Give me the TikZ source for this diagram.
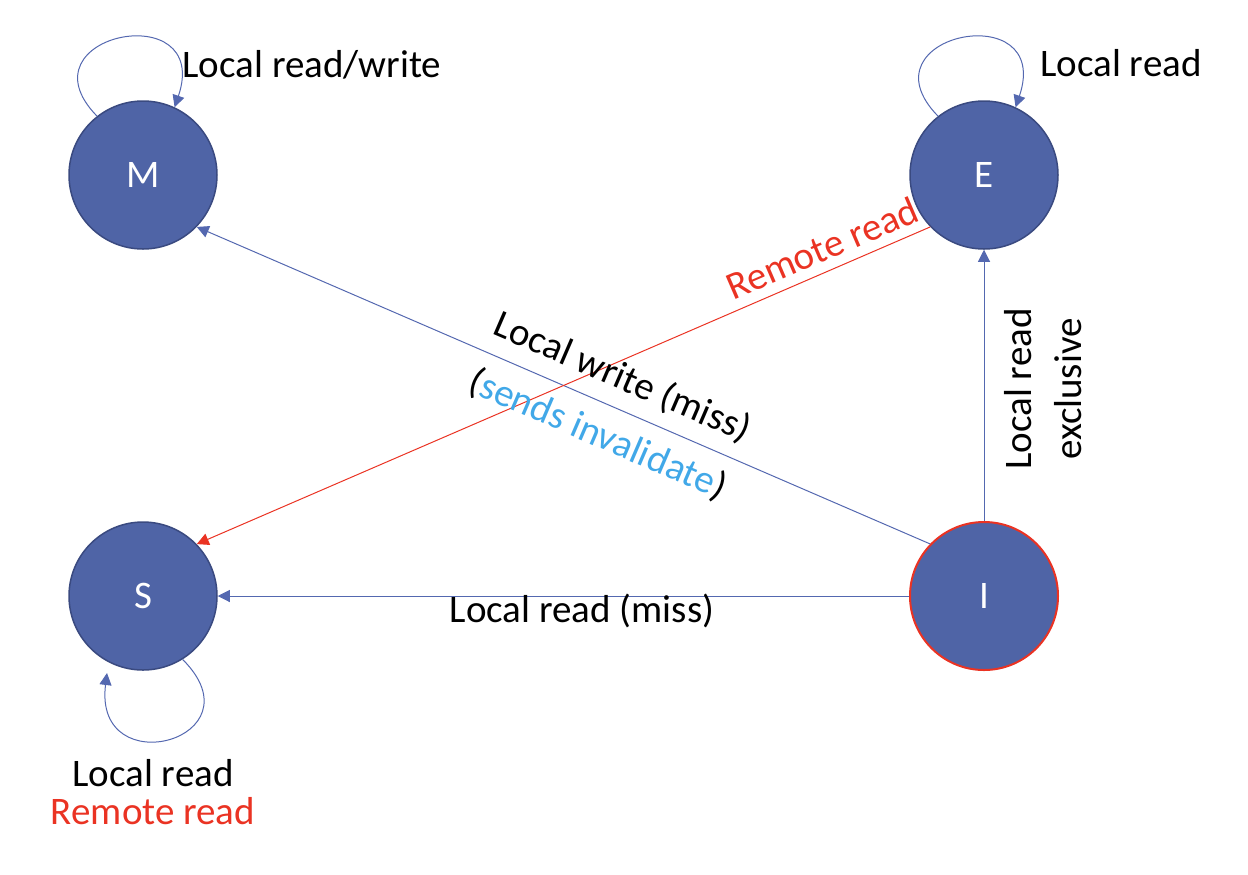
\documentclass[tikz,border=0pt]{standalone}
\usepackage{fontspec}
\setmainfont{Carlito}
\usepackage{xcolor}
\usepackage{tikz}
\usetikzlibrary{arrows.meta, positioning}
\definecolor{stateblue}{RGB}{79,100,166}
\definecolor{stateedge}{RGB}{58,74,128}
\definecolor{linkblue}{RGB}{84,104,176}
\definecolor{remotered}{RGB}{234,51,35}
\definecolor{invblue}{RGB}{65,168,232}

\begin{document}
\begin{tikzpicture}[
    x=0.5pt, y=-0.5pt,
    state/.style={circle, draw=stateedge, line width=0.75pt, fill=stateblue, minimum size=74pt, inner sep=0pt, text=white, font=\fontsize{19.5}{23}\selectfont},
    arrow/.style={-{Triangle[length=6pt,width=6pt]}, linkblue, line width=0.5pt},
    lbl/.style={font=\fontsize{19.5}{23}\selectfont, align=center}
]
\useasboundingbox (0,0) rectangle (1248,874);

\node[state] (M) at (143,175) {M};
\node[state] (E) at (984,175) {E};
\node[state] (S) at (143,596) {S};
\node[state, draw=remotered, line width=1pt] (I) at (984,596) {I};
\coordinate (Sin) at (107,673);

\draw[arrow] (I.136) -- (M.-44);
\draw[arrow, remotered] (E.-136) -- (S.44);
\draw[arrow] (I) -- (E);
\draw[arrow] (I) -- (S);
\draw[arrow] (M.128) .. controls +(-80,-82) and +(38,-112) .. (M.65);
\draw[arrow] (E.128) .. controls +(-80,-82) and +(38,-112) .. (E.65);
\draw[arrow] (S.-58) .. controls +(80,80) and +(-14,112) .. (Sin);

\node[lbl] (mlbl) at (312,65) {Local read/write};
\node[lbl] (elbl) at (1121,63) {Local read};
\node[lbl, text=remotered, rotate=23.3] (rrlbl) at (822,248) {Remote read};
\node[lbl, rotate=-23.3] (wlbl) at (610,406) {Local write (miss)\\[8pt](\textcolor{invblue}{sends invalidate})};
\node[lbl] (mislbl) at (582,611) {Local read (miss)};
\node[lbl, rotate=90] (exlbl) at (1043,389) {Local read\\[2pt]exclusive};
\node[lbl] (slbl) at (153,792) {Local read\\[-4pt]\textcolor{remotered}{Remote read}};
\end{tikzpicture}
\end{document}
